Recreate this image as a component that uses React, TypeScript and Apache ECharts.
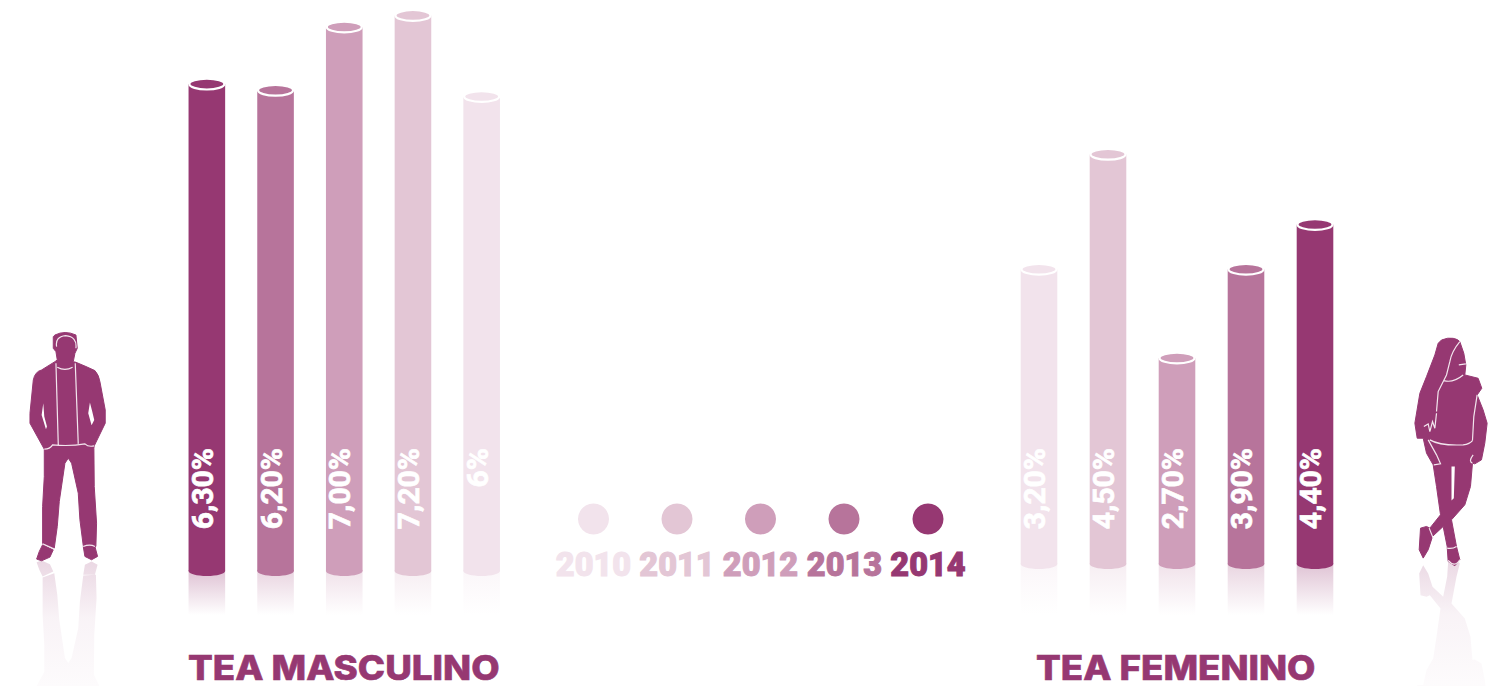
import React, { useEffect, useRef } from "react";
import * as echarts from "echarts";

// Data
const years = ["2010", "2011", "2012", "2013", "2014"];
const yearColors = ["#F2E3EC", "#E3C6D5", "#CF9EBA", "#B7749B", "#963872"];

const maleCategories = ["2014", "2013", "2012", "2011", "2010"];
const maleHeights = [6.31, 6.23, 7.05, 7.2, 6.15];
const maleLabels = ["6,30%", "6,20%", "7,00%", "7,20%", "6%"];

const femaleCategories = ["2010", "2011", "2012", "2013", "2014"];
const femaleHeights = [3.82, 5.31, 2.67, 3.82, 4.4];
const femaleLabels = ["3,20%", "4,50%", "2,70%", "3,90%", "4,40%"];

const PURPLE = "#963872";

const manBody =
  "M165 45 Q195 30 228 45 L232 85 L225 100 L220 125 L228 127 Q260 140 285 152 Q297 165 300 185 L316 270 L316 310 L283 378 L282 385 L283 500 L290 610 L288 680 L250 678 L240 600 L235 520 L215 430 L205 415 L195 430 L178 545 L172 620 L163 685 L128 672 L128 560 L133 470 L133 388 L90 310 L90 280 L100 180 Q105 155 125 150 L165 125 L172 120 L168 95 L160 85 L160 50 Z " +
  "M128 675 L160 690 L150 712 L125 723 L110 718 L118 695 Z " +
  "M250 680 L285 680 L293 710 L275 720 L255 710 Z";
const manHoles =
  "M130 250 L125 285 L138 328 L141 320 L133 290 Z M270 248 L265 280 L275 316 L283 300 L277 275 Z";
const manLines =
  "M168 130 L175 375 M226 130 L235 372 M172 142 Q195 155 218 142 M170 80 Q165 50 197 47 Q232 50 228 85 M133 388 Q150 388 158 375 Q210 380 255 372 Q265 382 283 378 M128 672 L163 688 M250 680 Q270 672 285 680";

const womanBody =
  "M485 60 Q505 52 520 55 Q535 58 540 65 L552 100 L558 135 L555 165 L595 175 L606 205 L592 225 L610 270 L622 310 L615 370 L605 420 L585 432 L578 430 L572 500 L555 555 L515 600 L530 680 L540 720 L525 738 L505 725 L502 680 L490 620 L458 650 L445 690 L430 715 L418 690 L422 625 L440 620 L450 625 L482 585 L470 500 L460 435 L440 400 L430 355 L412 355 L405 310 L420 220 L440 170 L465 105 L475 70 Z";
const womanHoles = "M515 440 L525 440 L522 535 L515 542 Z";
const womanLines =
  "M540 65 Q515 95 510 125 L500 165 L475 215 L470 275 M537 135 L558 132 M492 182 Q520 190 550 165 M450 360 Q480 378 550 375 Q570 372 578 362 M432 320 L445 312 L450 335 L458 305 L465 325 L470 280 M445 360 L470 405 L482 432 L462 435 M578 430 Q565 425 580 405 M448 625 L460 655 M502 685 Q518 688 530 680 M505 722 Q525 745 540 720 M592 225 L582 290 L578 362";

echarts.graphic.registerShape("manBody", echarts.graphic.extendPath(manBody, {}));
echarts.graphic.registerShape("manHoles", echarts.graphic.extendPath(manHoles, {}));
echarts.graphic.registerShape("manLines", echarts.graphic.extendPath(manLines, {}));
echarts.graphic.registerShape("womanBody", echarts.graphic.extendPath(womanBody, {}));
echarts.graphic.registerShape("womanHoles", echarts.graphic.extendPath(womanHoles, {}));
echarts.graphic.registerShape("womanLines", echarts.graphic.extendPath(womanLines, {}));

const rgba = (hex: string, a: number) => {
  const n = parseInt(hex.slice(1), 16);
  return `rgba(${(n >> 16) & 255},${(n >> 8) & 255},${n & 255},${a})`;
};

function cylinder(labels: string[], colors: string[], labelOffset: number, reflectEnd: number) {
  return (params: any, api: any) => {
    const i = api.value(0);
    const [cx, top] = api.coord([i, api.value(1)]);
    const [, base] = api.coord([i, 0]);
    const color = colors[params.dataIndex];
    const rx = 18.3;
    const ry = 5;
    return {
      type: "group",
      children: [
        {
          type: "rect",
          shape: { x: cx - rx, y: base, width: rx * 2, height: reflectEnd - base },
          style: {
            fill: new echarts.graphic.LinearGradient(0, 0, 0, 1, [
              { offset: 0, color: rgba(color, 0.3) },
              { offset: 1, color: rgba(color, 0) },
            ]),
          },
        },
        { type: "ellipse", shape: { cx, cy: base, rx, ry }, style: { fill: color } },
        { type: "rect", shape: { x: cx - rx, y: top, width: rx * 2, height: base - top }, style: { fill: color } },
        {
          type: "ellipse",
          shape: { cx, cy: top, rx: rx - 0.8, ry: ry + 0.4 },
          style: { fill: color, stroke: "#fff", lineWidth: 2.2 },
        },
        {
          type: "text",
          x: cx - 4.5,
          y: base - labelOffset,
          rotation: Math.PI / 2,
          style: {
            text: labels[params.dataIndex],
            fill: "#fff",
            stroke: "#fff",
            lineWidth: 0.7,
            align: "right",
            verticalAlign: "middle",
            fontFamily: "Roboto",
            fontWeight: 700,
            fontSize: 30,
          },
        },
      ],
    };
  };
}

function figure(body: string, holes: string, lines: string, x: number, y: number, mirrorY: number) {
  const s = 1 / 3;
  const fade = new echarts.graphic.LinearGradient(0, 0, 0, 1, [
    { offset: 0, color: rgba(PURPLE, 0) },
    { offset: 0.45, color: rgba(PURPLE, 0.02) },
    { offset: 0.75, color: rgba(PURPLE, 0.06) },
    { offset: 1, color: rgba(PURPLE, 0.2) },
  ]);
  return [
    { type: body, x, y: mirrorY, scaleX: s, scaleY: -s, style: { fill: fade } },
    {
      type: body,
      x,
      y,
      scaleX: s,
      scaleY: s,
      style: { fill: PURPLE, stroke: PURPLE, lineWidth: 3, lineJoin: "round" },
    },
    { type: holes, x, y, scaleX: s, scaleY: s, style: { fill: "#fff" } },
    { type: lines, x, y, scaleX: s, scaleY: s, style: { fill: "none", stroke: "#F3E6EE", lineWidth: 3.6 } },
  ];
}

const legendCircleX = [593.5, 677, 760.5, 844, 928];
const legendTextX = [593.5, 677, 760.5, 844.5, 928];

export default function App() {
  const ref = useRef<HTMLDivElement>(null);
  useEffect(() => {
    document.body.style.margin = "0";
    document.body.style.background = "#fff";
    const chart = echarts.init(ref.current!, null, { renderer: "svg" });
    const axisBase = { show: false };
    const titleStyle = {
      fill: PURPLE,
      stroke: PURPLE,
      lineWidth: 0.6,
      align: "left",
      verticalAlign: "middle",
      fontFamily: "Inter",
      fontWeight: 800,
      fontSize: 34,
    };
    chart.setOption({
      animation: false,
      backgroundColor: "#ffffff",
      grid: [
        { left: 172.5, width: 343.5, top: 7.7, height: 563.3 },
        { left: 1004.5, width: 345, top: 0.7, height: 563.3 },
      ],
      xAxis: [
        { ...axisBase, type: "category", gridIndex: 0, data: maleCategories },
        { ...axisBase, type: "category", gridIndex: 1, data: femaleCategories },
      ],
      yAxis: [
        { ...axisBase, type: "value", gridIndex: 0, min: 0, max: 7.3 },
        { ...axisBase, type: "value", gridIndex: 1, min: 0, max: 7.3 },
      ],
      series: [
        {
          type: "custom",
          xAxisIndex: 0,
          yAxisIndex: 0,
          clip: false,
          renderItem: cylinder(maleLabels, [...yearColors].reverse(), 123, 615),
          data: maleHeights.map((v, i) => [i, v]),
        },
        {
          type: "custom",
          xAxisIndex: 1,
          yAxisIndex: 1,
          clip: false,
          renderItem: cylinder(femaleLabels, yearColors, 116, 615),
          data: femaleHeights.map((v, i) => [i, v]),
        },
      ],
      graphic: [
        ...figure("manBody", "manHoles", "manLines", 0, 320, 801.3),
        ...figure("womanBody", "womanHoles", "womanLines", 1280, 320, 803.3),
        ...years.map((_, i) => ({
          type: "circle",
          shape: { cx: legendCircleX[i], cy: 519, r: 15.5 },
          style: { fill: yearColors[i] },
        })),
        ...years.map((y, i) => ({
          type: "text",
          x: legendTextX[i],
          y: 581,
          style: {
            text: y,
            fill: yearColors[i],
            stroke: yearColors[i],
            lineWidth: 1,
            align: "center",
            verticalAlign: "bottom",
            fontFamily: "Roboto",
            fontWeight: 900,
            fontSize: 32.5,
          },
        })),
        { type: "text", x: 188, y: 668, scaleX: 1.08, style: { ...titleStyle, text: "TEA MASCULINO" } },
        { type: "text", x: 1036, y: 668, scaleX: 1.08, style: { ...titleStyle, text: "TEA FEMENINO" } },
      ],
    });
    return () => chart.dispose();
  }, []);
  return <div ref={ref} style={{ width: 1497, height: 686, overflow: "hidden" }} />;
}
